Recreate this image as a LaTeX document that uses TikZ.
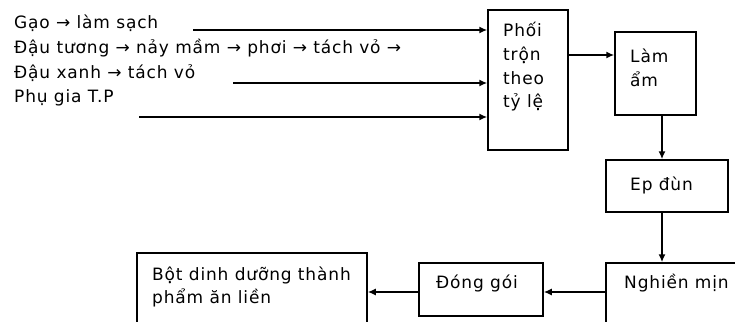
\documentclass[tikz,border=0pt]{standalone}
\usepackage{fontspec}
\setmainfont{DejaVu Sans}[LetterSpace=5]
\usetikzlibrary{arrows.meta}
\tikzset{
  box/.style={draw, line width=1.5pt, inner sep=0pt},
  txt/.style={anchor=base west, inner sep=0pt, font=\fontsize{17}{20}\selectfont},
  arr/.style={line width=1.5pt, -{Latex[length=8pt,width=7pt]}}
}
\begin{document}
\begin{tikzpicture}[x=1pt,y=-1pt]
\useasboundingbox (0,0) rectangle (735,321);
\clip (0,0) rectangle (735,321);
\fill[white] (0,0) rectangle (735,321);

% raw materials
\node[txt] (t1) at (14,29) {Gạo → làm sạch};
\node[txt] (t2) at (14,53.5) {Đậu tương → nảy mầm → phơi → tách vỏ →};
\node[txt] (t3) at (14,78) {Đậu xanh → tách vỏ};
\node[txt] (t4) at (14,102.5) {Phụ gia T.P};

% process boxes
\node[box, minimum width=80pt, minimum height=140pt] (phoi) at (528,80) {};
\node[box, minimum width=81pt, minimum height=83pt] (lam) at (655.5,73.5) {};
\node[box, minimum width=122pt, minimum height=52pt] (ep) at (667,186) {};
\node[box, minimum width=134pt, minimum height=77pt] (nghien) at (673,301.5) {};
\node[box, minimum width=124pt, minimum height=53pt] (dong) at (481,289.5) {};
\node[box, minimum width=230pt, minimum height=87pt] (bot) at (252,296.5) {};

% box labels
\node[txt] (l1) at (503,37) {Phối};
\node[txt] (l2) at (503,60.5) {trộn};
\node[txt] (l3) at (503,84) {theo};
\node[txt] (l4) at (503,107.5) {tỷ lệ};
\node[txt] (l5) at (630,63) {Làm};
\node[txt] (l6) at (630,86) {ẩm};
\node[txt] (l7) at (630,190) {Ep đùn};
\node[txt] (l8) at (624,288) {Nghiền mịn};
\node[txt] (l9) at (436,288) {Đóng gói};
\node[txt] (l10) at (152,280) {Bột dinh dưỡng thành};
\node[txt] (l11) at (152,303) {phẩm ăn liền};

% input arrows
\coordinate (in1) at (193,30);
\coordinate (in2) at (233,83);
\coordinate (in3) at (139,117);
\draw[arr] (in1) -- (in1 -| phoi.west);
\draw[arr] (in2) -- (in2 -| phoi.west);
\draw[arr] (in3) -- (in3 -| phoi.west);

% process flow
\coordinate (r1) at (0,55);
\coordinate (colv) at (662,0);
\coordinate (rowh) at (0,292);
\draw[arr] (r1 -| phoi.east) -- (r1 -| lam.west);
\draw[arr] (colv |- lam.south) -- (colv |- ep.north);
\draw[arr] (colv |- ep.south) -- (colv |- nghien.north);
\draw[arr] (rowh -| nghien.west) -- (rowh -| dong.east);
\draw[arr] (rowh -| dong.west) -- (rowh -| bot.east);
\end{tikzpicture}
\end{document}
